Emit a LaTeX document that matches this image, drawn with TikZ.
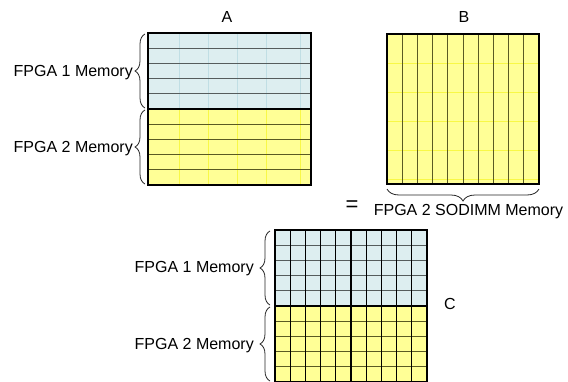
\documentclass[tikz,border=0pt]{standalone}
\usepackage{fontspec}
\setmainfont{Liberation Sans}
\usetikzlibrary{decorations.pathreplacing}

\definecolor{memblue}{RGB}{221,238,240}
\definecolor{memyellow}{RGB}{255,255,150}
\definecolor{faintblue}{RGB}{192,222,228}
\definecolor{faintyellow}{RGB}{248,248,70}
\definecolor{gridgray}{RGB}{85,92,92}
\definecolor{gridolive}{RGB}{90,90,35}

\begin{document}
\begin{tikzpicture}[x=1pt,y=-1pt,
  lbl/.style={font=\fontsize{16}{19}\selectfont, inner sep=0pt},
  memframe/.style={draw=black, line width=2pt, inner sep=0pt, outer sep=0pt},
  rowline/.style={gridgray, line width=1pt},
  rowlineY/.style={gridolive, line width=1pt},
  colline/.style={black, line width=1.2pt},
  faintB/.style={faintblue, line width=0.8pt},
  faintY/.style={faintyellow, line width=0.8pt},
  midline/.style={black, line width=2pt},
  curly/.style={decorate, decoration={brace, amplitude=#1}, line width=0.8pt, draw=black!85}]

\useasboundingbox (0,0) rectangle (568,381);

% ---------- matrix A: two stacked row blocks ----------
\fill[memblue] (148,33) rectangle (311,109);
\fill[memyellow] (148,109) rectangle (311,185);
\foreach \x in {179,208,237,266,300} {
  \draw[faintB] (\x,33) -- (\x,109);
  \draw[faintY] (\x,109) -- (\x,185);
}
\foreach \i in {1,...,4} {
  \draw[rowline] (148,{33+15.2*\i}) -- (311,{33+15.2*\i});
  \draw[rowlineY] (148,{109+15.2*\i}) -- (311,{109+15.2*\i});
}
\draw[midline] (148,109) -- (311,109);
\node[memframe, minimum width=163pt, minimum height=152pt] (A) at (229.5,109) {};
\node[lbl] (Alabel) at (227,17) {A};

% ---------- matrix B: column blocks ----------
\fill[memyellow] (387,34) rectangle (539,184);
\foreach \y in {63,92,121,150,179}
  \draw[faintY] (387,\y) -- (539,\y);
\foreach \i in {1,...,9}
  \draw[rowlineY] ({387+15.2*\i},34) -- ({387+15.2*\i},184);
\node[memframe, minimum width=152pt, minimum height=150pt] (B) at (463,109) {};
\node[lbl] (Blabel) at (464,17) {B};

% ---------- matrix C: full tiled result ----------
\fill[memblue] (275,230) rectangle (427,306);
\fill[memyellow] (275,306) rectangle (427,382);
\foreach \i in {1,...,4} {
  \draw[rowline] (275,{230+15.2*\i}) -- (427,{230+15.2*\i});
  \draw[rowlineY] (275,{306+15.2*\i}) -- (427,{306+15.2*\i});
}
\foreach \i in {1,...,9}
  \draw[colline] ({275+15.2*\i},230) -- ({275+15.2*\i},382);
\draw[midline] (275,306) -- (427,306);
\node[memframe, minimum width=152pt, minimum height=152pt] (C) at (351,306) {};
\node[lbl] (Clabel) at (450,304) {C};

% ---------- equals sign ----------
\node[lbl, font=\fontsize{22}{24}\selectfont] (eq) at (352,206) {=};

% ---------- braces and their labels ----------
\coordinate (a1top) at (145,34);
\coordinate (a1bot) at (145,108);
\coordinate (a2top) at (145,110);
\coordinate (a2bot) at (145,184);
\draw[curly=10pt] (a1bot) -- (a1top);
\draw[curly=10pt] (a2bot) -- (a2top);
\node[lbl, anchor=east] (a1text) at (133,73) {FPGA 1 Memory};
\node[lbl, anchor=east] (a2text) at (133,149) {FPGA 2 Memory};

\coordinate (bright) at (539,189);
\coordinate (bleft) at (387,189);
\draw[curly=12pt] (bright) -- (bleft);
\node[lbl] (btext) at (468.5,212) {FPGA 2 SODIMM Memory};

\coordinate (c1top) at (270,231);
\coordinate (c1bot) at (270,305);
\coordinate (c2top) at (270,307);
\coordinate (c2bot) at (270,381);
\draw[curly=10pt] (c1bot) -- (c1top);
\draw[curly=10pt] (c2bot) -- (c2top);
\node[lbl, anchor=east] (c1text) at (254,269) {FPGA 1 Memory};
\node[lbl, anchor=east] (c2text) at (254,346) {FPGA 2 Memory};

\end{tikzpicture}
\end{document}
